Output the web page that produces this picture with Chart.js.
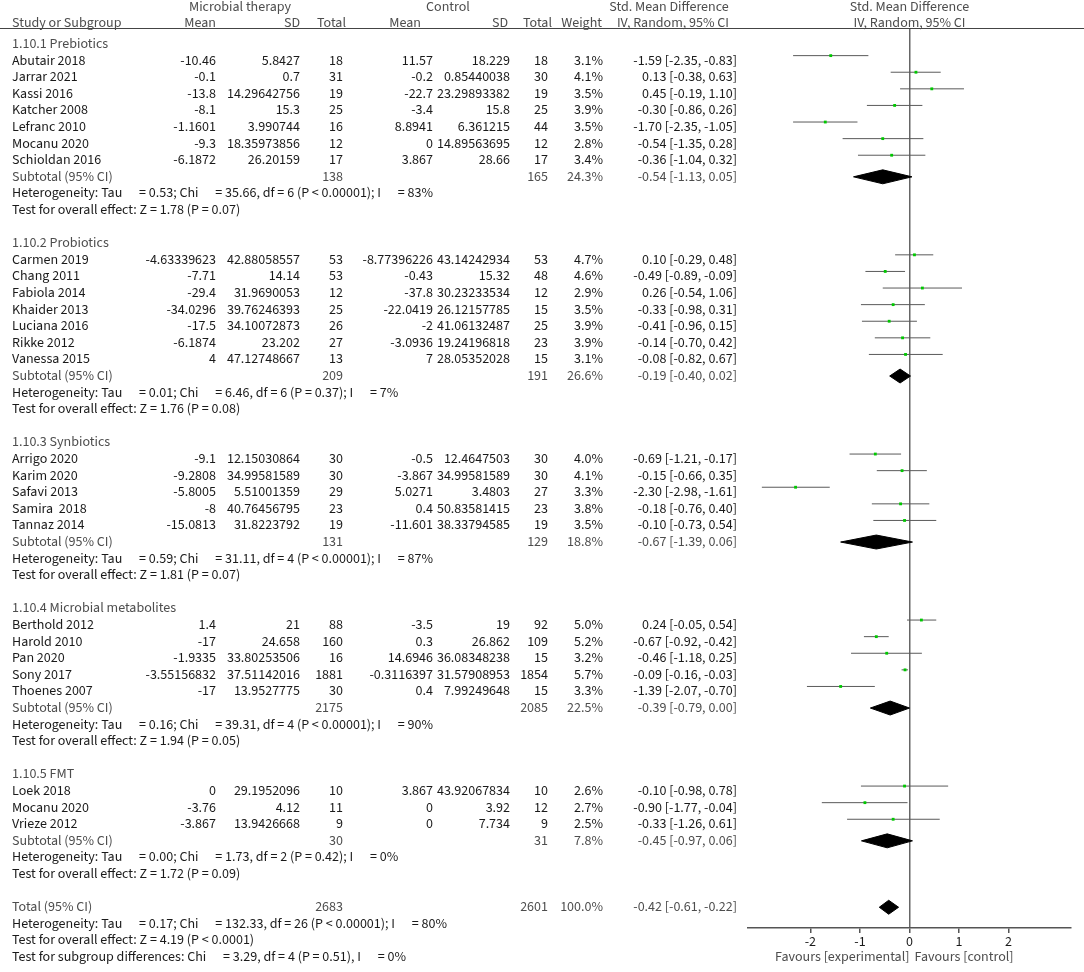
<!DOCTYPE html>
<html>
<head>
<meta charset="utf-8">
<title>Forest plot</title>
<script src="https://cdn.jsdelivr.net/npm/chart.js@4.4.1/dist/chart.umd.min.js"></script>
<style>
  html, body { margin: 0; padding: 0; background: #fff; }
  #wrap {
    position: relative; width: 1084px; height: 972px; overflow: hidden;
    font-family: "Source Sans 3", "Noto Sans", sans-serif; font-size: 14px; color: #1a1a1a;
  }
  #plot { position: absolute; left: 0; top: 0; }
  .t { position: absolute; white-space: pre; line-height: 1; transform: translateY(-50%); }
  .t.r { transform: translate(-100%, -50%); }
  .t.c { transform: translate(-50%, -50%); }
  .g { color: #4d4d4d; }
  #rule { position: absolute; left: 0; top: 28px; width: 1084px; height: 1px; background: #444; }
</style>
</head>
<body>
<div id="wrap">
  <canvas id="plot" width="1084" height="972"></canvas>
  <div id="rule"></div>
</div>
<script>
// data
const groupTitles = ["1.10.1 Prebiotics", "1.10.2 Probiotics", "1.10.3 Synbiotics", "1.10.4 Microbial metabolites", "1.10.5 FMT"];
const groupSizes = [7, 7, 5, 5, 3];

const studyNames = [
  "Abutair 2018", "Jarrar 2021", "Kassi 2016", "Katcher 2008", "Lefranc 2010", "Mocanu 2020", "Schioldan 2016",
  "Carmen 2019", "Chang 2011", "Fabiola 2014", "Khaider 2013", "Luciana 2016", "Rikke 2012", "Vanessa 2015",
  "Arrigo 2020", "Karim 2020", "Safavi 2013", "Samira  2018", "Tannaz 2014",
  "Berthold 2012", "Harold 2010", "Pan 2020", "Sony 2017", "Thoenes 2007",
  "Loek 2018", "Mocanu 2020", "Vrieze 2012"
];
const expMean = [
  "-10.46", "-0.1", "-13.8", "-8.1", "-1.1601", "-9.3", "-6.1872",
  "-4.63339623", "-7.71", "-29.4", "-34.0296", "-17.5", "-6.1874", "4",
  "-9.1", "-9.2808", "-5.8005", "-8", "-15.0813",
  "1.4", "-17", "-1.9335", "-3.55156832", "-17",
  "0", "-3.76", "-3.867"
];
const expSD = [
  "5.8427", "0.7", "14.29642756", "15.3", "3.990744", "18.35973856", "26.20159",
  "42.88058557", "14.14", "31.9690053", "39.76246393", "34.10072873", "23.202", "47.12748667",
  "12.15030864", "34.99581589", "5.51001359", "40.76456795", "31.8223792",
  "21", "24.658", "33.80253506", "37.51142016", "13.9527775",
  "29.1952096", "4.12", "13.9426668"
];
const expTotal = [18, 31, 19, 25, 16, 12, 17, 53, 53, 12, 25, 26, 27, 13, 30, 30, 29, 23, 19, 88, 160, 16, 1881, 30, 10, 11, 9];
const ctlMean = [
  "11.57", "-0.2", "-22.7", "-3.4", "8.8941", "0", "3.867",
  "-8.77396226", "-0.43", "-37.8", "-22.0419", "-2", "-3.0936", "7",
  "-0.5", "-3.867", "5.0271", "0.4", "-11.601",
  "-3.5", "0.3", "14.6946", "-0.3116397", "0.4",
  "3.867", "0", "0"
];
const ctlSD = [
  "18.229", "0.85440038", "23.29893382", "15.8", "6.361215", "14.89563695", "28.66",
  "43.14242934", "15.32", "30.23233534", "26.12157785", "41.06132487", "19.24196818", "28.05352028",
  "12.4647503", "34.99581589", "3.4803", "50.83581415", "38.33794585",
  "19", "26.862", "36.08348238", "31.57908953", "7.99249648",
  "43.92067834", "3.92", "7.734"
];
const ctlTotal = [18, 30, 19, 25, 44, 12, 17, 53, 48, 12, 15, 25, 23, 15, 30, 30, 27, 23, 19, 92, 109, 15, 1854, 15, 10, 12, 9];
const weights = [3.1, 4.1, 3.5, 3.9, 3.5, 2.8, 3.4, 4.7, 4.6, 2.9, 3.5, 3.9, 3.9, 3.1, 4.0, 4.1, 3.3, 3.8, 3.5, 5.0, 5.2, 3.2, 5.7, 3.3, 2.6, 2.7, 2.5];
const smd = [-1.59, 0.13, 0.45, -0.30, -1.70, -0.54, -0.36, 0.10, -0.49, 0.26, -0.33, -0.41, -0.14, -0.08, -0.69, -0.15, -2.30, -0.18, -0.10, 0.24, -0.67, -0.46, -0.09, -1.39, -0.10, -0.90, -0.33];
const ciLow = [-2.35, -0.38, -0.19, -0.86, -2.35, -1.35, -1.04, -0.29, -0.89, -0.54, -0.98, -0.96, -0.70, -0.82, -1.21, -0.66, -2.98, -0.76, -0.73, -0.05, -0.92, -1.18, -0.16, -2.07, -0.98, -1.77, -1.26];
const ciHigh = [-0.83, 0.63, 1.10, 0.26, -1.05, 0.28, 0.32, 0.48, -0.09, 1.06, 0.31, 0.15, 0.42, 0.67, -0.17, 0.35, -1.61, 0.40, 0.54, 0.54, -0.42, 0.25, -0.03, -0.70, 0.78, -0.04, 0.61];

const subExpTotal = [138, 209, 131, 2175, 30];
const subCtlTotal = [165, 191, 129, 2085, 31];
const subWeight = [24.3, 26.6, 18.8, 22.5, 7.8];
const subSmd = [-0.54, -0.19, -0.67, -0.39, -0.45];
const subLow = [-1.13, -0.40, -1.39, -0.79, -0.97];
const subHigh = [0.05, 0.02, 0.06, 0.00, 0.06];
const hetLines = [
  "Heterogeneity: Tau      = 0.53; Chi      = 35.66, df = 6 (P < 0.00001); I      = 83%",
  "Heterogeneity: Tau      = 0.01; Chi      = 6.46, df = 6 (P = 0.37); I      = 7%",
  "Heterogeneity: Tau      = 0.59; Chi      = 31.11, df = 4 (P < 0.00001); I      = 87%",
  "Heterogeneity: Tau      = 0.16; Chi      = 39.31, df = 4 (P < 0.00001); I      = 90%",
  "Heterogeneity: Tau      = 0.00; Chi      = 1.73, df = 2 (P = 0.42); I      = 0%"
];
const testLines = [
  "Test for overall effect: Z = 1.78 (P = 0.07)",
  "Test for overall effect: Z = 1.76 (P = 0.08)",
  "Test for overall effect: Z = 1.81 (P = 0.07)",
  "Test for overall effect: Z = 1.94 (P = 0.05)",
  "Test for overall effect: Z = 1.72 (P = 0.09)"
];

const totalExp = 2683, totalCtl = 2601, totalWeight = 100.0;
const totalSmd = -0.42, totalLow = -0.61, totalHigh = -0.22;
const footLines = [
  "Heterogeneity: Tau      = 0.17; Chi      = 132.33, df = 26 (P < 0.00001); I      = 80%",
  "Test for overall effect: Z = 4.19 (P < 0.0001)",
  "Test for subgroup differences: Chi      = 3.29, df = 4 (P = 0.51), I      = 0%"
];
const xTicks = [-2, -1, 0, 1, 2];

// column anchors (px)
const COL = { name: 12, eMean: 216, eSD: 300, eN: 343, cMean: 433, cSD: 510, cN: 548, w: 603, ci: 737 };
const LINE_SHIFT = -0.3;   // CI bars sit a little above the text centre
const DH = 0.42;           // half height of diamonds, in rows

function fmtCI(e, l, h) {
  return e.toFixed(2) + " [" + l.toFixed(2) + ", " + h.toFixed(2) + "]";
}

// lay out rows
const textRows = [];
const ciData = [], pointData = [], diamondSets = [];
let r = 0, k = 0;
groupTitles.forEach((title, g) => {
  textRows.push({ r, x: COL.name, s: title, cls: "g" });
  for (let i = 0; i < groupSizes[g]; i++, k++) {
    r++;
    textRows.push({ r, x: COL.name, s: studyNames[k] });
    textRows.push({ r, x: COL.eMean, s: expMean[k], a: "r" });
    textRows.push({ r, x: COL.eSD, s: expSD[k], a: "r" });
    textRows.push({ r, x: COL.eN, s: String(expTotal[k]), a: "r" });
    textRows.push({ r, x: COL.cMean, s: ctlMean[k], a: "r" });
    textRows.push({ r, x: COL.cSD, s: ctlSD[k], a: "r" });
    textRows.push({ r, x: COL.cN, s: String(ctlTotal[k]), a: "r" });
    textRows.push({ r, x: COL.w, s: weights[k].toFixed(1) + "%", a: "r" });
    textRows.push({ r, x: COL.ci, s: fmtCI(smd[k], ciLow[k], ciHigh[k]), a: "r" });
    ciData.push({ x: ciLow[k], y: r + LINE_SHIFT }, { x: ciHigh[k], y: r + LINE_SHIFT }, { x: ciHigh[k], y: null });
    pointData.push({ x: smd[k], y: r + LINE_SHIFT });
  }
  r++;
  textRows.push({ r, x: COL.name, s: "Subtotal (95% CI)", cls: "g" });
  textRows.push({ r, x: COL.eN, s: String(subExpTotal[g]), a: "r", cls: "g" });
  textRows.push({ r, x: COL.cN, s: String(subCtlTotal[g]), a: "r", cls: "g" });
  textRows.push({ r, x: COL.w, s: subWeight[g].toFixed(1) + "%", a: "r", cls: "g" });
  textRows.push({ r, x: COL.ci, s: fmtCI(subSmd[g], subLow[g], subHigh[g]), a: "r", cls: "g" });
  diamondSets.push([subSmd[g], subLow[g], subHigh[g], r]);
  r++;
  textRows.push({ r, x: COL.name, s: hetLines[g] });
  r++;
  textRows.push({ r, x: COL.name, s: testLines[g] });
  r += 2;
});
textRows.push({ r, x: COL.name, s: "Total (95% CI)", cls: "g" });
textRows.push({ r, x: COL.eN, s: String(totalExp), a: "r", cls: "g" });
textRows.push({ r, x: COL.cN, s: String(totalCtl), a: "r", cls: "g" });
textRows.push({ r, x: COL.w, s: totalWeight.toFixed(1) + "%", a: "r", cls: "g" });
textRows.push({ r, x: COL.ci, s: fmtCI(totalSmd, totalLow, totalHigh), a: "r", cls: "g" });
diamondSets.push([totalSmd, totalLow, totalHigh, r]);
footLines.forEach(s => { r++; textRows.push({ r, x: COL.name, s }); });

function diamond(e, l, h, row) {
  return [{ x: l, y: row }, { x: e, y: row - DH }, { x: h, y: row }, { x: e, y: row + DH }, { x: l, y: row }];
}

// lower "order" is drawn on top
const datasets = [
  { data: ciData, order: 3, showLine: true, spanGaps: false, borderColor: "#5a5a5a", borderWidth: 1, pointRadius: 0 },
  { data: pointData, order: 0, showLine: false, pointStyle: "rect", pointRadius: 2, backgroundColor: "#00c800", borderWidth: 0 }
].concat(diamondSets.map(d => ({
  data: diamond(d[0], d[1], d[2], d[3]), order: 1, showLine: true, fill: "shape", tension: 0,
  borderColor: "#000", backgroundColor: "#000", borderWidth: 1, pointRadius: 0
})));

const FONT = { family: "'Source Sans 3', 'Noto Sans', sans-serif", size: 14 };

const chart = new Chart(document.getElementById("plot").getContext("2d"), {
  type: "scatter",
  data: { datasets },
  options: {
    responsive: false,
    animation: false,
    events: [],
    layout: { padding: { left: 748, right: 13, top: 29, bottom: 0 } },
    plugins: { legend: { display: false }, tooltip: { enabled: false } },
    scales: {
      x: {
        type: "linear", min: -3.26, max: 3.26,
        afterBuildTicks: s => { s.ticks = xTicks.map(v => ({ value: v })); },
        afterFit: s => { s.height = 44; },
        ticks: { color: "#1a1a1a", font: FONT, padding: 2 },
        grid: {
          color: c => (c.tick && c.tick.value === 0 ? "#666" : "rgba(0,0,0,0)"),
          lineWidth: 1.5, tickColor: "#555", tickLength: 5
        },
        border: { color: "#555", width: 1.5 }
      },
      y: { type: "linear", reverse: true, min: -0.904, max: 53.25, display: false }
    }
  }
});

// table text, placed on the same rows as the chart
const wrap = document.getElementById("wrap");
function addText(x, y, s, a, cls) {
  const d = document.createElement("div");
  d.className = "t" + (a ? " " + a : "") + (cls ? " " + cls : "");
  d.style.left = x + "px";
  d.style.top = y + "px";
  d.textContent = s;
  wrap.appendChild(d);
}
const yS = chart.scales.y, xS = chart.scales.x;
textRows.forEach(t => addText(t.x, yS.getPixelForValue(t.r), t.s, t.a, t.cls));

// headers
const x0 = xS.getPixelForValue(0);
addText(240, 7, "Microbial therapy", "c", "g");
addText(448, 7, "Control", "c", "g");
addText(669, 7, "Std. Mean Difference", "c", "g");
addText(x0, 7, "Std. Mean Difference", "c", "g");
addText(12, 23, "Study or Subgroup", "", "g");
addText(216, 23, "Mean", "r", "g");
addText(300, 23, "SD", "r", "g");
addText(346, 23, "Total", "r", "g");
addText(421, 23, "Mean", "r", "g");
addText(508, 23, "SD", "r", "g");
addText(552, 23, "Total", "r", "g");
addText(602, 23, "Weight", "r", "g");
addText(729, 23, "IV, Random, 95% CI", "r", "g");
addText(x0, 23, "IV, Random, 95% CI", "c", "g");
addText(x0, 957, "Favours [experimental]", "r", "g");
addText(x0 + 5, 957, "Favours [control]", "", "g");
</script>
</body>
</html>
